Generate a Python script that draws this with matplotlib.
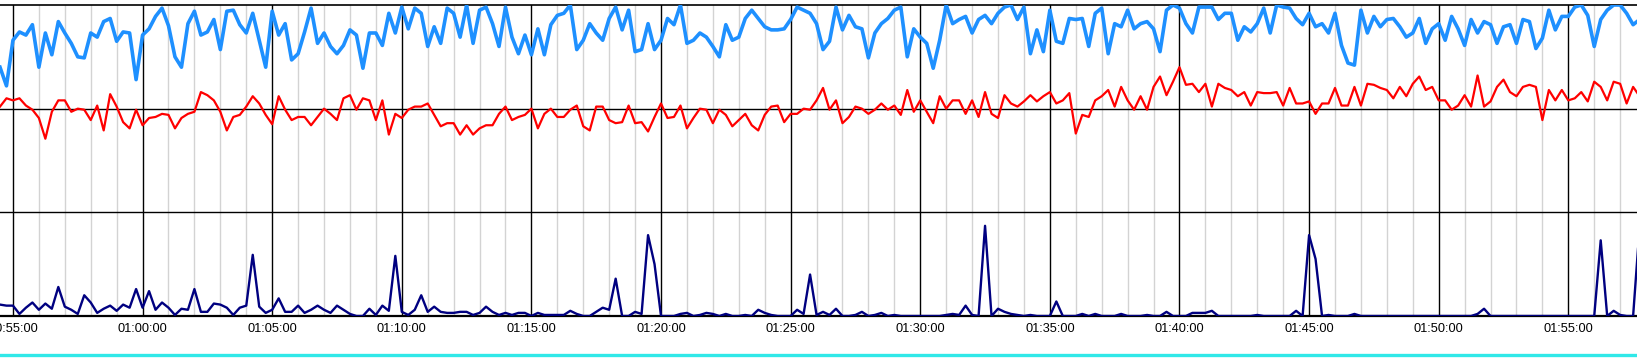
import pandas as pd
import matplotlib
matplotlib.use('Agg')
import matplotlib.pyplot as plt
import matplotlib.dates as mdates
from matplotlib.lines import Line2D

plt.rcParams['font.family'] = ['Liberation Sans', 'DejaVu Sans']

# samples every 15 s starting 00:54:30
start = '2024-01-01 00:54:30'

blue_vals = [
    240, 222, 266, 274, 271, 281, 240, 273, 252, 284, 273, 263, 250, 249, 273, 269,
    284, 287, 265, 274, 273, 228, 271, 277, 289, 297, 280, 250, 240, 282, 294, 271,
    274, 286, 257, 294, 295, 281, 273, 292, 266, 240, 294, 271, 282, 247, 253, 274,
    297, 263, 273, 260, 253, 261, 276, 271, 239, 273, 273, 261, 292, 273, 298, 277,
    297, 292, 260, 279, 263, 297, 292, 269, 300, 263, 295, 298, 282, 260, 298, 269,
    253, 271, 252, 277, 252, 281, 290, 292, 300, 257, 266, 282, 273, 266, 287,
    298, 276, 295, 255, 257, 282, 257, 266, 287, 281, 300, 263, 266, 273, 269, 260,
    250, 281, 266, 269, 287, 295, 287, 279, 276, 276, 277, 286, 298, 295, 292, 282,
    257, 265, 298, 276, 290, 279, 277, 249, 273, 282, 287, 295, 298, 250, 277, 269,
    263, 239, 266, 300, 282, 286, 289, 273, 286, 290, 282, 292, 298, 300, 286, 298,
    253, 276, 255, 295, 265, 263, 287, 286, 287, 260, 292, 297, 253, 282, 279, 295,
    277, 282, 284, 277, 255, 295, 300, 297, 282, 273, 298, 298, 298, 286, 292,
    292, 266, 279, 274, 282, 297, 273, 300, 298, 297, 287, 281, 292, 279, 282, 273,
    292, 261, 244, 242, 295, 273, 289, 279, 286, 287, 279, 269, 273, 287, 263, 277,
    282, 266, 289, 277, 261, 286, 273, 284, 281, 263, 279, 281, 263, 286, 284, 258,
    268, 295, 276, 289, 289, 298, 300, 290, 260, 286, 295, 300, 300, 292, 281, 286,
]

red_vals = [
    202, 210, 208, 210, 203, 199, 191, 171, 197, 208, 208, 197, 200, 199, 189, 203,
    179, 214, 202, 187, 181, 199, 184, 191, 192, 195, 194, 181, 191, 195, 197, 216,
    213, 208, 197, 179, 192, 194, 202, 212, 205, 194, 185, 212, 199, 189, 192, 192,
    184, 192, 200, 195, 189, 210, 213, 199, 210, 208, 189, 208, 175, 195, 191, 199,
    202, 202, 205, 194, 183, 186, 186, 175, 184, 175, 181, 184, 184, 195, 202, 189,
    192, 194, 200, 181, 195, 200, 192, 192, 199, 203, 183, 179, 202, 202, 189,
    186, 187, 203, 186, 187, 178, 192, 205, 191, 192, 203, 181, 191, 200, 199, 186,
    199, 194, 183, 189, 195, 184, 179, 194, 202, 203, 187, 195, 195, 200, 199, 208,
    220, 199, 208, 186, 192, 202, 200, 195, 199, 205, 199, 203, 194, 218, 197, 208,
    197, 186, 212, 200, 208, 208, 195, 208, 192, 216, 195, 191, 213, 205, 202, 207,
    213, 207, 212, 216, 205, 208, 215, 176, 194, 192, 208, 212, 218, 202, 221, 208,
    199, 212, 199, 221, 231, 213, 226, 240, 223, 224, 216, 224, 202, 224, 220,
    218, 212, 216, 203, 216, 215, 215, 216, 203, 220, 205, 205, 207, 195, 205, 205,
    220, 203, 203, 221, 203, 224, 223, 220, 218, 210, 221, 212, 224, 231, 218, 221,
    208, 208, 199, 203, 213, 202, 232, 202, 207, 221, 228, 216, 212, 221, 223, 221,
    189, 218, 208, 218, 208, 210, 216, 207, 226, 221, 208, 226, 224, 205, 221, 212,
]

navy_vals = [
    11, 10, 10, 2, 8, 13, 6, 12, 7, 28, 9, 6, 2, 20, 13, 3,
    7, 10, 5, 11, 8, 26, 8, 24, 6, 13, 8, 1, 7, 6, 26, 4,
    4, 12, 11, 8, 1, 8, 10, 59, 9, 3, 6, 17, 4, 4, 10, 3,
    6, 10, 6, 3, 10, 6, 2, 0, 0, 7, 1, 10, 5, 58, 4, 1,
    6, 20, 4, 9, 4, 3, 3, 4, 4, 1, 3, 9, 4, 1, 3, 1,
    3, 3, 0, 3, 1, 1, 1, 1, 5, 2, 0, 0, 4, 8, 6,
    36, 0, 0, 4, 2, 78, 50, 0, 0, 0, 2, 3, 0, 1, 3, 2,
    0, 2, 0, 0, 1, 0, 6, 3, 1, 0, 0, 0, 6, 2, 40, 1,
    4, 1, 7, 0, 0, 1, 4, 0, 1, 3, 0, 1, 0, 0, 0, 0,
    0, 0, 0, 1, 2, 1, 10, 1, 0, 87, 0, 7, 4, 2, 1, 0,
    1, 0, 0, 0, 14, 0, 0, 0, 2, 0, 2, 0, 0, 0, 2, 0,
    0, 0, 1, 0, 0, 4, 0, 0, 0, 3, 3, 3, 5, 0, 0,
    0, 0, 0, 0, 1, 0, 0, 0, 0, 0, 5, 0, 78, 55, 0, 1,
    0, 0, 0, 2, 0, 0, 0, 0, 0, 0, 0, 0, 0, 0, 0, 0,
    0, 0, 0, 0, 0, 0, 2, 7, 0, 0, 0, 0, 0, 0, 0, 0,
    0, 0, 0, 0, 0, 0, 0, 0, 0, 73, 0, 5, 1, 0, 0, 86,
]

times = pd.date_range(start, periods=len(blue_vals), freq='15s')

fig = plt.figure(figsize=(16.37, 3.58), dpi=100)
ax = fig.add_axes([0, 42 / 358, 1, 311 / 358])

ax.plot(times, blue_vals, color='#1E90FF', lw=2.6, zorder=3)
ax.plot(times, red_vals, color='#FF0000', lw=1.6, zorder=3)
ax.plot(times, navy_vals, color='#000080', lw=1.7, zorder=3)

ax.set_ylim(0, 300)
ax.set_yticks([100, 200])
ax.set_xlim(pd.Timestamp('2024-01-01 00:54:30'), pd.Timestamp('2024-01-01 01:57:39'))

ax.xaxis.set_major_locator(mdates.MinuteLocator(byminute=range(0, 60, 5)))
ax.xaxis.set_minor_locator(mdates.MinuteLocator())
ax.xaxis.set_major_formatter(mdates.DateFormatter('%H:%M:%S'))

ax.grid(which='minor', axis='x', color='#d3d3d3', lw=1, zorder=1)
ax.grid(which='major', axis='x', color='black', lw=1, zorder=2)
ax.grid(which='major', axis='y', color='black', lw=1, zorder=2)
ax.set_axisbelow(True)

ax.tick_params(axis='x', which='both', length=0, pad=5, labelsize=9.2, colors='black')
ax.tick_params(axis='y', which='both', length=0, labelleft=False)

for side in ['left', 'right']:
    ax.spines[side].set_visible(False)
ax.spines['top'].set_linewidth(1.2)
ax.spines['bottom'].set_linewidth(1.6)

# cyan strip along the bottom edge
fig.add_artist(Line2D([0, 1], [3.5 / 358, 3.5 / 358], color='#30E8E8', lw=2.4))

fig.savefig('out.png', dpi=100)
